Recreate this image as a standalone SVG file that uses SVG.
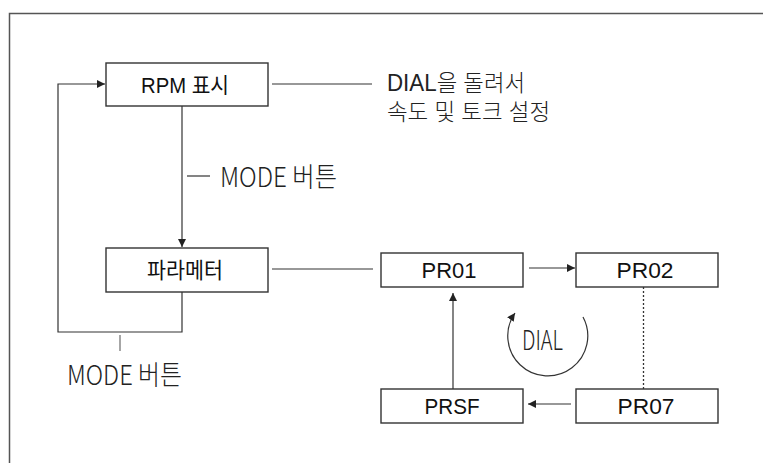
<svg xmlns="http://www.w3.org/2000/svg" width="763" height="463" viewBox="0 0 763 463">
<style>
.box{fill:#fff;stroke:#333;stroke-width:1.4}
.ln{fill:none;stroke:#333;stroke-width:1.2}
.nt{font-family:"Liberation Sans","Noto Sans CJK KR",sans-serif;font-size:22px;fill:#111;text-anchor:middle}
.lt{font-family:"Noto Sans CJK KR","Liberation Sans",sans-serif;font-weight:300;font-size:27px;fill:#222}
.lt2{font-family:"Liberation Sans","Noto Sans CJK KR",sans-serif;font-weight:300;font-size:23px;fill:#222}
</style>
<defs>
<marker id="ah" viewBox="0 0 10 10" refX="10" refY="5" markerWidth="8" markerHeight="8" markerUnits="userSpaceOnUse" orient="auto">
<path d="M0,0 L10,5 L0,10 z" fill="#222"/>
</marker>
</defs>
<rect width="763" height="463" fill="#fff"/>
<path d="M9.5,463 V13.5 H763" fill="none" stroke="#555" stroke-width="1.5"/>
<g id="connectors">
<line class="ln" x1="272" y1="84" x2="372" y2="84"/>
<line class="ln" x1="182" y1="106" x2="182" y2="247" marker-end="url(#ah)"/>
<line class="ln" x1="187" y1="176" x2="210" y2="176"/>
<path class="ln" d="M182,292 V332 H58 V84 H105" marker-end="url(#ah)"/>
<line x1="120" y1="335" x2="120" y2="351" stroke="#888" stroke-width="1.5"/>
<line class="ln" x1="272" y1="269" x2="373" y2="269"/>
<line class="ln" x1="529" y1="268" x2="575" y2="268" marker-end="url(#ah)"/>
<line x1="643.5" y1="287" x2="643.5" y2="389" stroke="#333" stroke-width="1.3" stroke-dasharray="2,2"/>
<line class="ln" x1="571" y1="404" x2="528" y2="404" marker-end="url(#ah)"/>
<line class="ln" x1="453" y1="389" x2="453" y2="293" marker-end="url(#ah)"/>
<path class="ln" d="M583,317 A40,40 0 1 1 515,313" marker-end="url(#ah)"/>
</g>
<g id="rpm"><rect class="box" x="106" y="63" width="162" height="43"/><text class="nt" x="185" y="93" font-size="23" textLength="88" lengthAdjust="spacingAndGlyphs">RPM 표시</text></g>
<g id="param"><rect class="box" x="106" y="248" width="162" height="44"/><text class="nt" x="185" y="278" font-size="23" textLength="76" lengthAdjust="spacingAndGlyphs">파라메터</text></g>
<g id="pr01"><rect class="box" x="381" y="253" width="142" height="34"/><text class="nt" x="449" y="278" textLength="55" lengthAdjust="spacingAndGlyphs">PR01</text></g>
<g id="pr02"><rect class="box" x="576" y="253" width="142" height="34"/><text class="nt" x="645" y="278" textLength="57" lengthAdjust="spacingAndGlyphs">PR02</text></g>
<g id="prsf"><rect class="box" x="381" y="389" width="142" height="34"/><text class="nt" x="452" y="414" textLength="55" lengthAdjust="spacingAndGlyphs">PRSF</text></g>
<g id="pr07"><rect class="box" x="576" y="389" width="142" height="34"/><text class="nt" x="646" y="414" textLength="57" lengthAdjust="spacingAndGlyphs">PR07</text></g>
<g id="labels">
<text class="lt2" x="387" y="91" textLength="138" lengthAdjust="spacingAndGlyphs">DIAL을 돌려서</text>
<text class="lt2" x="387" y="120" textLength="163" lengthAdjust="spacingAndGlyphs">속도 및 토크 설정</text>
<text class="lt" x="220" y="187" textLength="117" lengthAdjust="spacingAndGlyphs">MODE 버튼</text>
<text class="lt" x="67" y="385" textLength="115" lengthAdjust="spacingAndGlyphs">MODE 버튼</text>
<text class="lt" x="522" y="350" font-size="25" textLength="41" lengthAdjust="spacingAndGlyphs">DIAL</text>
</g>
</svg>
